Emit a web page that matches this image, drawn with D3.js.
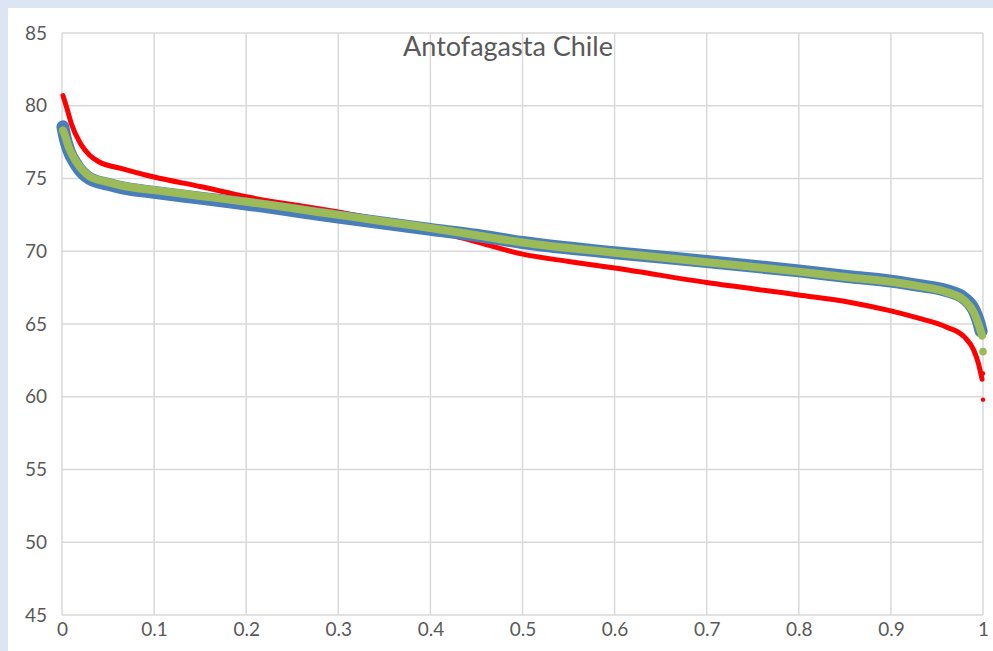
<!DOCTYPE html>
<html>
<head>
<meta charset="utf-8">
<script src="https://cdn.jsdelivr.net/npm/d3@7"></script>
<style>
  body { margin: 0; background: #dce6f2; }
  #chart { position: absolute; left: 8px; top: 8px; width: 985px; height: 643px; background: #fff; }
  text { font-family: Lato, "Open Sans", sans-serif; fill: #595959; }
</style>
</head>
<body>
<div id="chart"></div>
<script>
// chart values
const title = 'Antofagasta Chile'
const xTicks = [0, 0.1, 0.2, 0.3, 0.4, 0.5, 0.6, 0.7, 0.8, 0.9, 1]
const yTicks = [45, 50, 55, 60, 65, 70, 75, 80, 85]

const blueX = [0.001, 0.003, 0.007, 0.016, 0.03, 0.05, 0.066, 0.1, 0.15, 0.2, 0.3, 0.4, 0.45, 0.5, 0.6, 0.7, 0.8, 0.855, 0.9, 0.93, 0.96, 0.98, 0.99, 0.995, 0.998]
const blueY = [78.55, 77.9, 77.0, 75.9, 75.0, 74.6, 74.35, 74.05, 73.65, 73.25, 72.35, 71.5, 71.1, 70.6, 69.9, 69.3, 68.65, 68.25, 67.95, 67.65, 67.3, 66.75, 66.0, 65.2, 64.5]

const greenX = [0.001, 0.003, 0.007, 0.016, 0.03, 0.05, 0.066, 0.1, 0.15, 0.2, 0.3, 0.4, 0.45, 0.5, 0.6, 0.7, 0.8, 0.855, 0.9, 0.93, 0.96, 0.98, 0.99, 0.995, 0.999]
const greenY = [78.3, 78.0, 77.2, 76.1, 75.15, 74.75, 74.5, 74.2, 73.8, 73.4, 72.5, 71.6, 71.1, 70.6, 69.9, 69.25, 68.6, 68.2, 67.9, 67.6, 67.2, 66.6, 65.8, 65.0, 64.2]
const greenDotX = [1.0]
const greenDotY = [63.1]

const redX = [0.001, 0.005, 0.01, 0.02, 0.03, 0.04, 0.067, 0.1, 0.15, 0.2, 0.3, 0.4, 0.45, 0.5, 0.55, 0.6, 0.7, 0.8, 0.855, 0.9, 0.93, 0.96, 0.98, 0.99, 0.995, 0.999]
const redY = [80.7, 79.9, 78.8, 77.4, 76.6, 76.15, 75.65, 75.1, 74.45, 73.75, 72.7, 71.45, 70.65, 69.8, 69.3, 68.85, 67.85, 67.0, 66.5, 65.9, 65.4, 64.8, 64.1, 63.2, 62.3, 61.2]
const redDotX = [1.0, 1.0]
const redDotY = [61.6, 59.8]

// dimensions
let dimensions = {
    width: 985,
    height: 643,
    margin: { top: 25, right: 10, bottom: 36, left: 54 },
}
dimensions.innerWidth = dimensions.width - dimensions.margin.left - dimensions.margin.right
dimensions.innerHeight = dimensions.height - dimensions.margin.top - dimensions.margin.bottom

const outer = d3.select('#chart').append('svg')
    .attr('width', dimensions.width)
    .attr('height', dimensions.height)

const inner = outer.append('g')
    .attr('transform', `translate(${dimensions.margin.left},${dimensions.margin.top})`)

// scales
const xScale = d3.scaleLinear().domain([0, 1]).range([0, dimensions.innerWidth])
const yScale = d3.scaleLinear().domain([45, 85]).range([dimensions.innerHeight, 0])

// grid
inner.append('g').selectAll('line').data(xTicks).join('line')
    .attr('x1', d => xScale(d)).attr('x2', d => xScale(d))
    .attr('y1', 0).attr('y2', dimensions.innerHeight)
    .attr('stroke', '#d9d9d9').attr('stroke-width', 1.5)

inner.append('g').selectAll('line').data(yTicks).join('line')
    .attr('x1', 0).attr('x2', dimensions.innerWidth)
    .attr('y1', d => yScale(d)).attr('y2', d => yScale(d))
    .attr('stroke', '#d9d9d9').attr('stroke-width', 1.5)

// axes labels
const yAxis = d3.axisLeft(yScale).tickValues(yTicks).tickSize(0).tickPadding(15)
const yAxisGroup = inner.append('g').call(yAxis)
yAxisGroup.select('.domain').remove()
yAxisGroup.selectAll('text').style('font-size', '19px').attr('fill', '#595959')

const xAxis = d3.axisBottom(xScale).tickValues(xTicks).tickSize(0).tickPadding(8)
    .tickFormat(d3.format('~g'))
const xAxisGroup = inner.append('g')
    .attr('transform', `translate(0,${dimensions.innerHeight})`)
    .call(xAxis)
xAxisGroup.select('.domain').remove()
xAxisGroup.selectAll('text').style('font-size', '19px').attr('fill', '#595959')

// series
const lineGen = d3.line()
    .x(d => xScale(d[0]))
    .y(d => yScale(d[1]))
    .curve(d3.curveMonotoneX)

inner.append('path')
    .attr('d', lineGen(d3.zip(redX, redY)))
    .attr('fill', 'none').attr('stroke', '#ff0000').attr('stroke-width', 5)
    .attr('stroke-linecap', 'round').attr('stroke-linejoin', 'round')

inner.selectAll('circle.red').data(d3.zip(redDotX, redDotY)).join('circle')
    .attr('class', 'red')
    .attr('cx', d => xScale(d[0])).attr('cy', d => yScale(d[1]))
    .attr('r', 2.2).attr('fill', '#ff0000')

inner.append('path')
    .attr('d', lineGen(d3.zip(blueX, blueY)))
    .attr('fill', 'none').attr('stroke', '#4a7ebb').attr('stroke-width', 13)
    .attr('stroke-linecap', 'round').attr('stroke-linejoin', 'round')

inner.append('path')
    .attr('d', lineGen(d3.zip(greenX, greenY)))
    .attr('fill', 'none').attr('stroke', '#9bbb59').attr('stroke-width', 8)
    .attr('stroke-linecap', 'round').attr('stroke-linejoin', 'round')

inner.selectAll('circle.green').data(d3.zip(greenDotX, greenDotY)).join('circle')
    .attr('class', 'green')
    .attr('cx', d => xScale(d[0])).attr('cy', d => yScale(d[1]))
    .attr('r', 3.8).attr('fill', '#9bbb59')

// title
outer.append('text')
    .attr('x', 500)
    .attr('y', 48)
    .attr('text-anchor', 'middle')
    .style('font-size', '27px')
    .text(title)
</script>
</body>
</html>
